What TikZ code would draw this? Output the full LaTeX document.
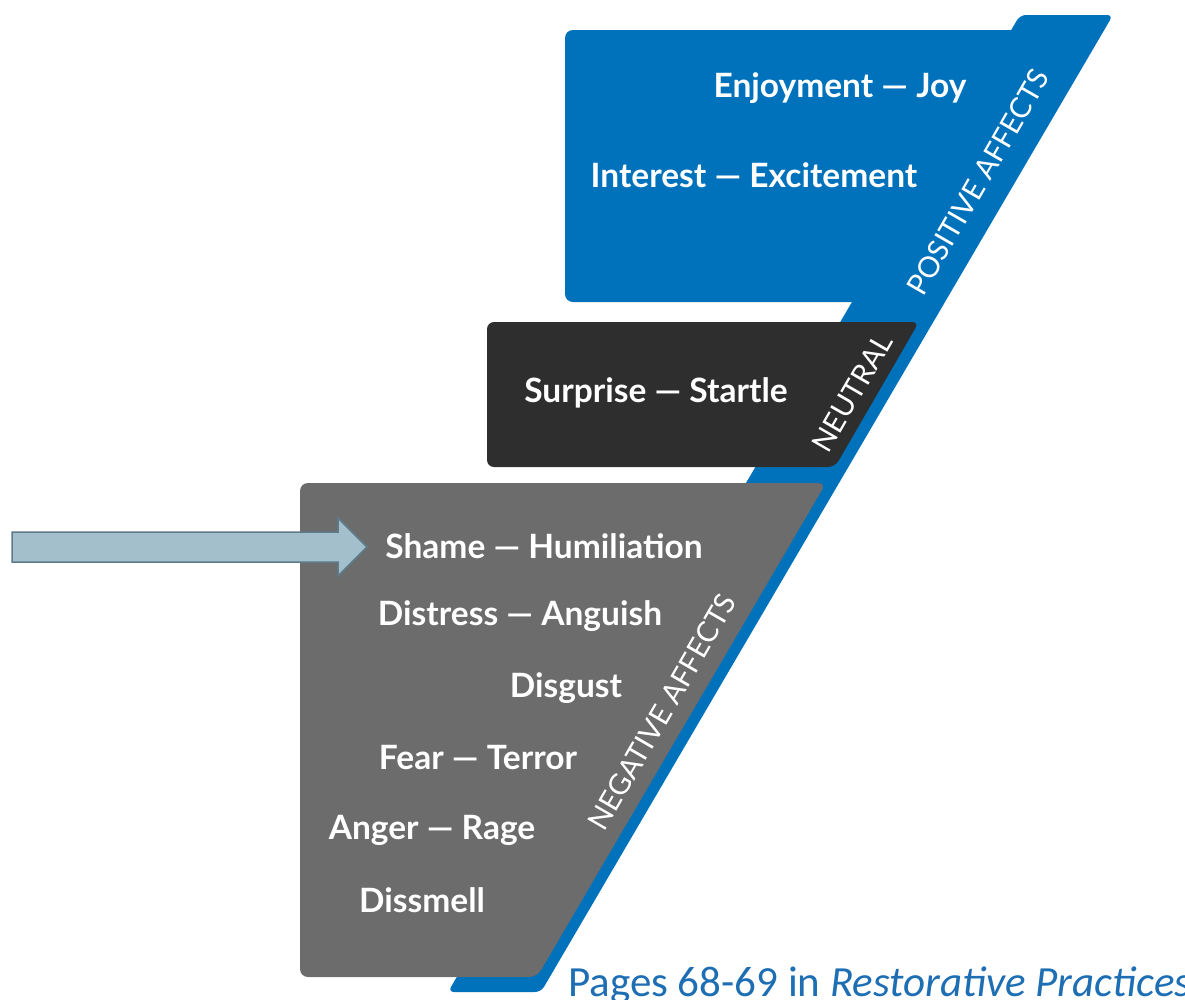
\documentclass[tikz,border=0pt]{standalone}
\usepackage{fontspec}
\setmainfont{Lato}
\newfontfamily\pagesfont{Carlito}
\usepackage{xcolor}

\definecolor{affblue}{RGB}{0,114,188}
\definecolor{affdark}{RGB}{46,46,46}
\definecolor{affgray}{RGB}{108,108,108}
\definecolor{pointfill}{RGB}{163,191,204}
\definecolor{pointline}{RGB}{94,123,139}
\definecolor{pageblue}{RGB}{30,110,180}

\begin{document}
\begin{tikzpicture}[x=1pt, y=-1pt,
  affect/.style={text=white, inner sep=0pt, font=\fontsize{33.5}{36}\selectfont\bfseries},
  group/.style={text=white, inner sep=0pt, rotate=60, font=\fontsize{29}{32}\selectfont}]
\clip (0,0) rectangle (1185,999);

% slanted band and the three boxes
\fill[affblue, rounded corners=6] (1020,15) -- (1113,15) -- (541,992) -- (448,992) -- cycle;
\fill[affblue, rounded corners=8] (565,30) -- (1060,30) -- (900,302) -- (565,302) -- cycle;
\fill[affdark, rounded corners=7] (487,322) -- (919,322) -- (835,467) -- (487,467) -- cycle;
\fill[affgray, rounded corners=8] (300,483) -- (826,483) -- (537,977) -- (300,977) -- cycle;

\node[affect] (joy) at (840,88) {Enjoyment — Joy};
\node[affect] (interest) at (754,175) {Interest — Excitement};
\node[affect] (surprise) at (656,393) {Surprise — Startle};
\node[affect] (shame) at (544,546) {Shame — Humiliation};
\node[affect] (distress) at (520,616) {Distress — Anguish};
\node[affect] (disgust) at (566,688) {Disgust};
\node[affect] (fear) at (478,758) {Fear — Terror};
\node[affect] (anger) at (432,830) {Anger — Rage};
\node[affect] (dissmell) at (422,900) {Dissmell};

\node[group] (poslabel) at (978,182) {POSITIVE AFFECTS};
\node[group] (neulabel) at (852,393) {NEUTRAL};
\node[group] (neglabel) at (662,712) {NEGATIVE AFFECTS};

% block arrow
\draw[pointline, fill=pointfill, line width=1.5pt]
  (12,532) -- (338,532) -- (338,518) -- (367,547) -- (338,576) -- (338,562) -- (12,562) -- cycle;

\node[anchor=base west, inner sep=0pt, text=pageblue, font=\pagesfont\fontsize{43}{46}\selectfont]
  (pages) at (568,996) {Pages 68-69 in \textit{Restorative Practices}};
\end{tikzpicture}
\end{document}
